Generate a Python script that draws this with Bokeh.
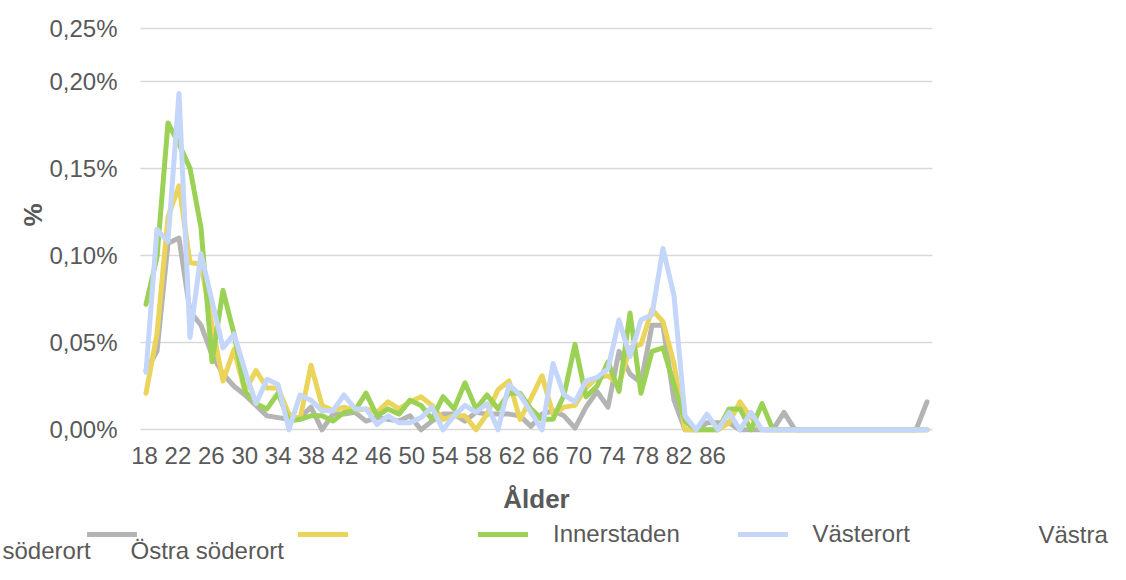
from bokeh.plotting import figure
from bokeh.models import Range1d, LinearAxis, FixedTicker, Legend, LegendItem, Label
from bokeh.embed import file_html
from bokeh.resources import INLINE

# ---------------- data ----------------
ages = list(range(18, 90))

grey_vals = [0.034, 0.045, 0.107, 0.110, 0.068, 0.060, 0.043, 0.032, 0.025, 0.020,
             0.014, 0.008, 0.007, 0.006, 0.007, 0.013, 0.000, 0.009, 0.009, 0.010,
             0.005, 0.007, 0.006, 0.005, 0.008, 0.000, 0.005, 0.009, 0.009, 0.005,
             0.010, 0.009, 0.009, 0.009, 0.008, 0.002, 0.009, 0.011, 0.008, 0.001,
             0.013, 0.022, 0.013, 0.045, 0.032, 0.027, 0.060, 0.060, 0.017, 0.000,
             0.000, 0.004, 0.004, 0.004, 0.000, 0.000, 0.000, 0.000, 0.010, 0.000,
             0.000, 0.000, 0.000, 0.000, 0.000, 0.000, 0.000, 0.000, 0.000, 0.000,
             0.000, 0.016]

yellow_vals = [0.021, 0.055, 0.122, 0.140, 0.096, 0.095, 0.060, 0.028, 0.046, 0.022,
               0.034, 0.024, 0.024, 0.009, 0.006, 0.037, 0.014, 0.011, 0.013, 0.011,
               0.012, 0.010, 0.016, 0.012, 0.016, 0.019, 0.014, 0.006, 0.008, 0.008,
               0.000, 0.009, 0.023, 0.028, 0.006, 0.018, 0.031, 0.009, 0.013, 0.014,
               0.024, 0.030, 0.031, 0.026, 0.047, 0.049, 0.069, 0.062, 0.038, 0.000,
               0.000, 0.000, 0.000, 0.004, 0.016, 0.007, 0.000, 0.000, 0.000, 0.000,
               0.000, 0.000, 0.000, 0.000, 0.000, 0.000, 0.000, 0.000, 0.000, 0.000,
               0.000, 0.000]

green_vals = [0.072, 0.099, 0.176, 0.164, 0.150, 0.116, 0.039, 0.080, 0.055, 0.022,
              0.015, 0.012, 0.021, 0.005, 0.006, 0.008, 0.008, 0.005, 0.010, 0.011,
              0.021, 0.008, 0.012, 0.009, 0.017, 0.014, 0.006, 0.019, 0.012, 0.027,
              0.012, 0.020, 0.012, 0.021, 0.021, 0.012, 0.006, 0.006, 0.020, 0.049,
              0.019, 0.025, 0.039, 0.022, 0.067, 0.021, 0.045, 0.047, 0.026, 0.005,
              0.000, 0.000, 0.000, 0.012, 0.012, 0.000, 0.015, 0.000, 0.000, 0.000,
              0.000, 0.000, 0.000, 0.000, 0.000, 0.000, 0.000, 0.000, 0.000, 0.000,
              0.000, 0.000]

blue_vals = [0.033, 0.115, 0.108, 0.193, 0.053, 0.101, 0.074, 0.047, 0.055, 0.034,
             0.015, 0.029, 0.026, 0.000, 0.020, 0.017, 0.011, 0.011, 0.020, 0.012,
             0.012, 0.003, 0.008, 0.004, 0.004, 0.007, 0.013, 0.000, 0.008, 0.014,
             0.010, 0.015, 0.000, 0.026, 0.020, 0.010, 0.000, 0.038, 0.020, 0.016,
             0.028, 0.030, 0.035, 0.063, 0.042, 0.063, 0.066, 0.104, 0.077, 0.008,
             0.000, 0.009, 0.000, 0.010, 0.000, 0.010, 0.000, 0.000, 0.000, 0.000,
             0.000, 0.000, 0.000, 0.000, 0.000, 0.000, 0.000, 0.000, 0.000, 0.000,
             0.000, 0.000]

x_tick_labels = ["18", "22", "26", "30", "34", "38", "42", "46", "50", "54",
                 "58", "62", "66", "70", "74", "78", "82", "86"]
y_tick_values = [0.0, 0.05, 0.10, 0.15, 0.20]
y_tick_labels = ["0,00%", "0,05%", "0,10%", "0,15%", "0,20%"]
y_top_label = "0,25%"

legend_labels = [" ", " ", "Innerstaden", "Västerort"]
extra_legend_texts = ["Västra", "söderort", "Östra söderort"]

colors = ["#B4B4B4", "#EBD45A", "#9BD155", "#C4D6FA"]

# ---------------- layout constants (pixels) ----------------
FONT = "Liberation Sans"
TXT = "#595959"
W, H = 1110, 564
PLOT_L, PLOT_R = 140, 932          # data area, px
ZERO_Y = 429.3                     # px of the 0 line
PX_PER_UNIT_Y = 1743.0             # px per 1 percentage point
BOTTOM_Y = 433.6                   # px of the data-area bottom
TOP_TICK_Y = 27.7                  # px of the top grid line
LAB_PX_PER_UNIT = 8.353            # label strip scale
LAB_FIRST_PX = 144.0
ROW1_Y, ROW2_Y = 534, 550          # legend rows (px from top)

a0, a1 = ages[0] - 0.5, ages[-1] + 0.5
px_per_age = (PLOT_R - PLOT_L) / (a1 - a0)
x_start = a0 - PLOT_L / px_per_age
x_end = a0 + (W - PLOT_L) / px_per_age
y_end = ZERO_Y / PX_PER_UNIT_Y
y_start = -(H - ZERO_Y) / PX_PER_UNIT_Y
y_top_tick = (ZERO_Y - TOP_TICK_Y) / PX_PER_UNIT_Y
y_axis_loc = -(BOTTOM_Y - ZERO_Y) / PX_PER_UNIT_Y

p = figure(width=W, height=H, output_backend="svg", toolbar_location=None,
           x_axis_location=None,
           x_range=Range1d(x_start, x_end), y_range=Range1d(y_start, y_end),
           min_border_left=0, min_border_right=0, min_border_top=0, min_border_bottom=0)
p.outline_line_color = None
p.background_fill_color = "white"
p.border_fill_color = "white"

# y axis, drawn at the left edge of the data area
ya = p.yaxis[0]
ticks = y_tick_values + [y_top_tick]
yt = FixedTicker(ticks=ticks)
ya.ticker = yt
ov = {v: l for v, l in zip(y_tick_values, y_tick_labels)}
ov[y_top_tick] = y_top_label
ya.major_label_overrides = ov
ya.fixed_location = a0
ya.bounds = (0.0, 2 * (ZERO_Y - 210) / PX_PER_UNIT_Y)
ya.axis_line_color = None
ya.major_tick_line_color = None
ya.minor_tick_line_color = None
ya.major_tick_out = 0
ya.major_tick_in = 0
ya.major_label_standoff = 23
ya.major_label_text_font = FONT
ya.major_label_text_font_size = "24px"
ya.major_label_text_color = TXT
ya.axis_label = "%"
ya.axis_label_text_font = FONT
ya.axis_label_text_font_size = "26px"
ya.axis_label_text_font_style = "bold"
ya.axis_label_text_color = TXT
ya.axis_label_standoff = -2

g = p.ygrid[0]
g.ticker = yt
g.grid_line_color = "#d9d9d9"
g.grid_line_width = 1.5
if "cross_bounds" in g.properties():
    g.cross_bounds = (a0, a1)
else:
    g.visible = False
    p.segment(x0=[a0] * len(ticks), x1=[a1] * len(ticks), y0=ticks, y1=ticks,
              line_color="#d9d9d9", line_width=1.5)
p.xgrid.visible = False

renderers = []
for vals, c in zip([grey_vals, yellow_vals, green_vals, blue_vals], colors):
    r = p.line(ages, vals, line_color=c, line_width=5, line_join="round", line_cap="round")
    renderers.append(r)

# x axis (label strip)
lab_ticks = [int(t) for t in x_tick_labels]
lab_start = lab_ticks[0] - LAB_FIRST_PX / LAB_PX_PER_UNIT
lab_end = lab_start + W / LAB_PX_PER_UNIT
p.extra_x_ranges = {"lab": Range1d(lab_start, lab_end)}
center_lab = lab_start + ((PLOT_L + PLOT_R) / 2) / LAB_PX_PER_UNIT
xa = LinearAxis(x_range_name="lab", ticker=FixedTicker(ticks=lab_ticks),
                major_label_overrides={t: s for t, s in zip(lab_ticks, x_tick_labels)})
xa.fixed_location = y_axis_loc
xa.bounds = (lab_ticks[0], 2 * center_lab - lab_ticks[0])
xa.axis_line_color = None
xa.major_tick_line_color = None
xa.minor_tick_line_color = None
xa.major_tick_out = 0
xa.major_tick_in = 0
xa.major_label_standoff = 13
xa.major_label_text_font = FONT
xa.major_label_text_font_size = "24px"
xa.major_label_text_color = TXT
xa.axis_label = "Ålder"
xa.axis_label_text_font = FONT
xa.axis_label_text_font_size = "26px"
xa.axis_label_text_font_style = "bold"
xa.axis_label_text_color = TXT
xa.axis_label_standoff = 16
p.add_layout(xa, "below")

# legend (one legend per entry to mirror the original placement)
GLYPH_H = 30
leg_x = [87, 297.5, 478, 737.5]
for r, lbl, lx in zip(renderers, legend_labels, leg_x):
    lg = Legend(items=[LegendItem(label=lbl, renderers=[r])],
                location=(lx, H - ROW1_Y - GLYPH_H / 2),
                orientation="horizontal", glyph_width=50, glyph_height=GLYPH_H,
                label_standoff=25, padding=0, margin=0, spacing=0,
                border_line_color=None, background_fill_alpha=0,
                label_text_font=FONT, label_text_font_size="24px",
                label_text_color=TXT)
    p.add_layout(lg)

txt_pos = [(1038, H - ROW1_Y), (2, H - ROW2_Y), (130, H - ROW2_Y)]
for t, (tx, ty) in zip(extra_legend_texts, txt_pos):
    p.add_layout(Label(x=tx, y=ty, x_units="screen", y_units="screen", text=t,
                       text_font=FONT, text_font_size="24px", text_color=TXT,
                       text_baseline="middle", text_align="left"))

open("out.html", "w").write(file_html(p, INLINE))
